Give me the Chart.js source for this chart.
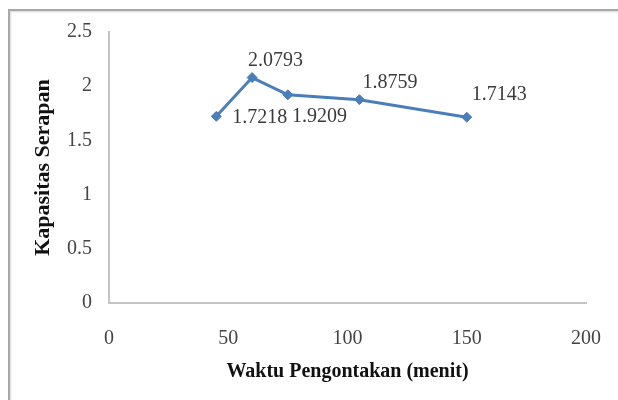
<!DOCTYPE html>
<html>
<head>
<meta charset="utf-8">
<script src="https://cdn.jsdelivr.net/npm/chart.js@4"></script>
<style>
  html, body { margin: 0; padding: 0; background: #fff; }
  #wrap { position: relative; width: 618px; height: 400px; overflow: hidden; }
  #frame { position: absolute; left: 8px; top: 9px; width: 700px; height: 500px;
           border: 2px solid #a8a8a8; box-shadow: 1px 1px 2px #d8d8d8 inset; }
  canvas { position: absolute; left: 0; top: 0; }
</style>
</head>
<body>
<div id="wrap">
  <div id="frame"></div>
  <canvas id="myChart" width="618" height="400"></canvas>
</div>
<script>
// data
const waktu = [45, 60, 75, 105, 150];
const kapasitas = [1.7218, 2.0793, 1.9209, 1.8759, 1.7143];
const xTicks = [0, 50, 100, 150, 200];
const yTicks = [0, 0.5, 1, 1.5, 2, 2.5];

// where each value label sits relative to its point [dx, dy]
const labelOffsets = [[16, 1], [-4, -17], [4, 22], [3, -17], [5, -22]];

const serif = "'Liberation Serif', 'Times New Roman', serif";

const valueLabels = {
    id: 'valueLabels',
    afterDatasetsDraw(chart) {
        const ctx = chart.ctx;
        const meta = chart.getDatasetMeta(0);
        ctx.save();
        ctx.font = '20px ' + serif;
        ctx.fillStyle = '#3a3a3a';
        ctx.textAlign = 'left';
        ctx.textBaseline = 'middle';
        meta.data.forEach((pt, i) => {
            const off = labelOffsets[i];
            ctx.fillText(String(kapasitas[i]), pt.x + off[0], pt.y + off[1]);
        });
        ctx.restore();
    }
};

const ctx = document.getElementById('myChart').getContext('2d');
const chart = new Chart(ctx, {
    type: 'scatter',
    data: {
        datasets: [{
            data: waktu.map((w, i) => ({ x: w, y: kapasitas[i] })),
            showLine: true,
            borderColor: '#4a7ebb',
            backgroundColor: '#4a7ebb',
            borderWidth: 3,
            tension: 0,
            pointStyle: 'rectRot',
            pointRadius: 5,
            pointBorderWidth: 1
        }]
    },
    options: {
        responsive: false,
        animation: false,
        layout: { padding: { left: 0, top: 32, right: 32, bottom: 0 } },
        plugins: {
            legend: { display: false },
            tooltip: { enabled: false }
        },
        scales: {
            x: {
                type: 'linear',
                min: xTicks[0],
                max: xTicks[xTicks.length - 1],
                afterBuildTicks: s => { s.ticks = xTicks.map(v => ({ value: v })); },
                afterFit: s => { s.height = 97; s.paddingLeft = 0; s.paddingRight = 0; },
                grid: { display: false, drawTicks: false },
                border: { display: true, color: '#c4c4c4', width: 2 },
                ticks: { padding: 24, color: '#444', font: { family: serif, size: 20 },
                         callback: v => String(v) },
                title: {
                    display: true,
                    text: 'Waktu Pengontakan (menit)',
                    color: '#111',
                    font: { family: serif, size: 20, weight: 'bold' },
                    padding: { top: 0, bottom: 16 }
                }
            },
            y: {
                type: 'linear',
                min: yTicks[0],
                max: yTicks[yTicks.length - 1],
                afterBuildTicks: s => { s.ticks = yTicks.map(v => ({ value: v })); },
                afterFit: s => { s.width = 109; s.paddingTop = 0; s.paddingBottom = 0; },
                grid: { display: false, drawTicks: false },
                border: { display: true, color: '#c4c4c4', width: 2 },
                ticks: { padding: 17, color: '#444', font: { family: serif, size: 20 },
                         callback: v => String(v) },
                title: {
                    display: true,
                    text: 'Kapasitas Serapan',
                    color: '#111',
                    font: { family: serif, size: 22, weight: 'bold' },
                    padding: { top: 30, bottom: 0 }
                }
            }
        }
    },
    plugins: [valueLabels]
});
</script>
</body>
</html>
